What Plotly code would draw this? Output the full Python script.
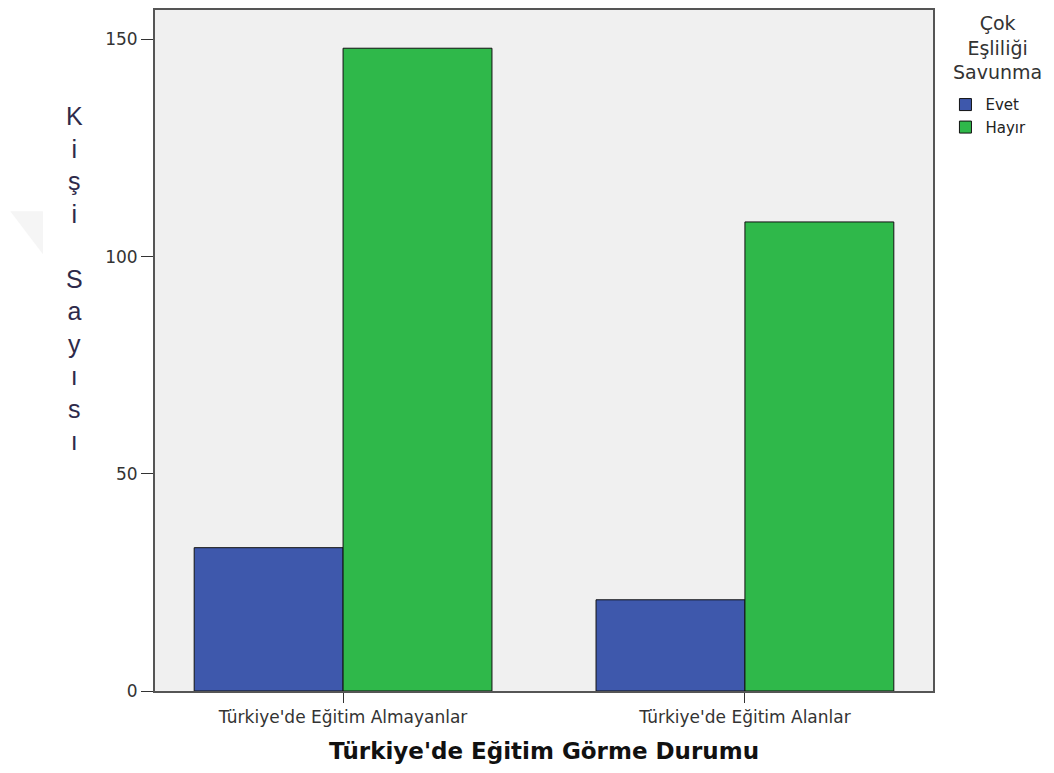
import plotly.graph_objects as go

categories = ["Türkiye'de Eğitim Almayanlar", "Türkiye'de Eğitim Alanlar"]
evet = [33, 21]
hayir = [148, 108]
y_ticks = [0, 50, 100, 150]

fig = go.Figure()
fig.add_trace(go.Bar(x=categories, y=evet, name="Evet",
                     marker=dict(color="#3e58ac", line=dict(color="#111111", width=1))))
fig.add_trace(go.Bar(x=categories, y=hayir, name="Hayır",
                     marker=dict(color="#2fb84a", line=dict(color="#111111", width=1))))

fig.update_layout(
    width=1054, height=773,
    margin=dict(l=147, r=129, t=0, b=90),
    paper_bgcolor="white",
    plot_bgcolor="#f0f0f0",
    barmode="group",
    bargap=0.259,
    bargroupgap=0,
    font=dict(family="DejaVu Sans, Arial", color="#333333"),
    showlegend=True,
    legend=dict(x=1.016, y=0.885, xanchor="left", yanchor="top",
                font=dict(size=15, color="#222222"),
                tracegroupgap=0, itemwidth=30,
                bgcolor="rgba(0,0,0,0)"),
)
fig.update_xaxes(
    range=[-0.468, 1.468],
    showline=True, linecolor="#555555", linewidth=2, mirror=True,
    ticks="outside", ticklen=10, tickcolor="#333333", tickwidth=1,
    tickfont=dict(size=17, color="#333333"),
    showgrid=False,
    title=dict(text="<b>Türkiye'de Eğitim Görme Durumu</b>",
               font=dict(size=23, color="#111111"), standoff=16),
)
fig.update_yaxes(
    range=[0, 156.8],
    tickvals=y_ticks,
    showline=True, linecolor="#555555", linewidth=2, mirror=True,
    ticks="outside", ticklen=12, tickcolor="#333333", tickwidth=1,
    tickfont=dict(size=17, color="#333333"),
    showgrid=False, zeroline=False,
)

ytitle = "<br>".join(list("Kişi") + [""] + list("Sayısı"))
fig.add_annotation(text=ytitle, xref="paper", yref="paper",
                   x=-0.103, y=0.606, xanchor="center", yanchor="middle",
                   showarrow=False, align="center",
                   font=dict(family="Liberation Sans, Arial", size=25, color="#2e2a4a"))
fig.add_annotation(text="Çok<br>Eşliliği<br>Savunma", xref="paper", yref="paper",
                   x=1.0835, y=1.0, xanchor="center", yanchor="top",
                   showarrow=False, align="center",
                   font=dict(size=19, color="#333333"))

# faint watermark triangle at the left edge
fig.add_shape(type="path", xref="paper", yref="paper",
              path="M -0.186 0.7045 L -0.144 0.7045 L -0.144 0.6415 Z",
              fillcolor="#f5f5f5", line=dict(width=0), layer="below")

fig.write_html("out.html")
